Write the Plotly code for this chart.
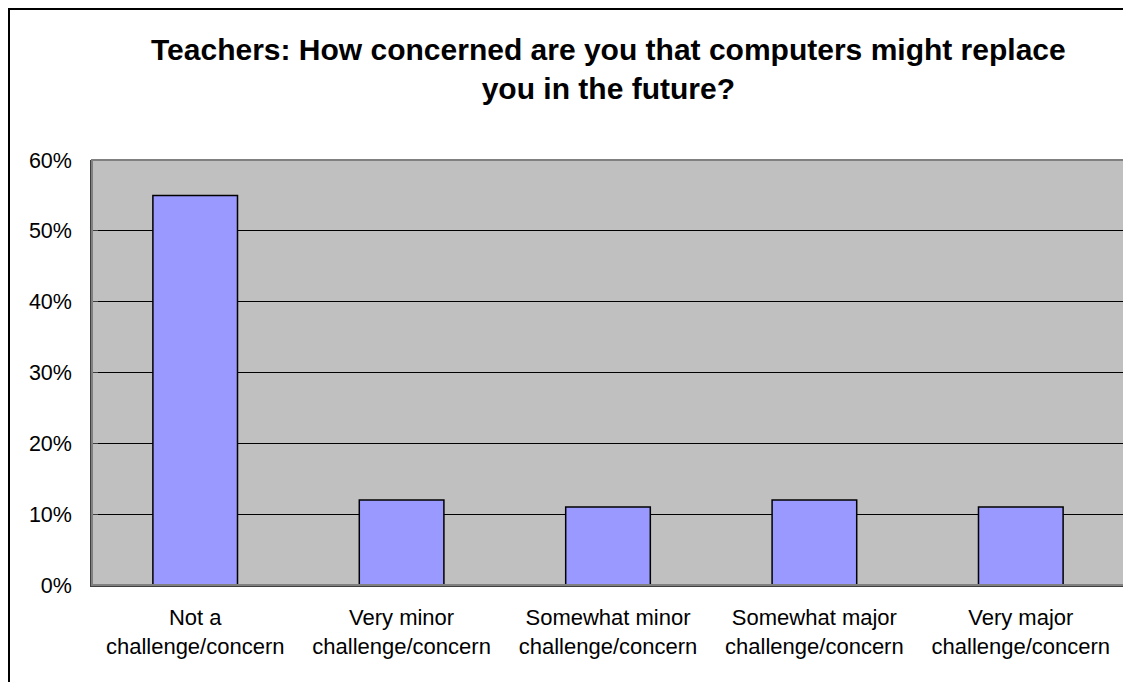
import plotly.graph_objects as go

categories = ["Not a<br>challenge/concern", "Very minor<br>challenge/concern",
              "Somewhat minor<br>challenge/concern", "Somewhat major<br>challenge/concern",
              "Very major<br>challenge/concern"]
values = [0.55, 0.12, 0.11, 0.12, 0.11]
y_ticks = [0, 0.1, 0.2, 0.3, 0.4, 0.5, 0.6]
y_tick_labels = ["0%", "10%", "20%", "30%", "40%", "50%", "60%"]
title_text = "Teachers: How concerned are you that computers might replace<br>you in the future?"

FONT = "Arial, Liberation Sans, sans-serif"
# page body has an 8px margin, so figure coords = screen coords - 8
W, H = 1123, 674
L, R, T, B = 84, 7, 152, 97
pw, ph = W - L - R, H - T - B

def px(x):
    return (x - L) / pw

def py(y):
    return (H - B - y) / ph

fig = go.Figure(go.Bar(
    x=categories, y=values,
    marker=dict(color="#9999FF", line=dict(color="black", width=1.5)),
    width=0.41,
))

fig.update_layout(
    width=W, height=H,
    margin=dict(l=L, r=R, t=T, b=B, autoexpand=False),
    paper_bgcolor="white", plot_bgcolor="#C0C0C0",
    showlegend=False,
    font=dict(family=FONT, color="black", size=22),
    shapes=[
        dict(type="rect", xref="paper", yref="paper",
             x0=0, x1=1, y0=0, y1=1, line=dict(color="#808080", width=2), layer="above"),
        dict(type="rect", xref="paper", yref="paper",
             x0=px(1), x1=px(W + 20), y0=py(1), y1=py(H + 20),
             line=dict(color="black", width=2)),
    ],
    annotations=[
        dict(text="<b>" + title_text + "</b>", xref="paper", yref="paper",
             x=0.5, y=py(61), xanchor="center", yanchor="middle",
             showarrow=False, font=dict(size=30, family=FONT, color="black")),
    ],
)

fig.update_yaxes(
    range=[0, 0.6], tickvals=y_ticks, ticktext=y_tick_labels,
    showgrid=True, gridcolor="black", gridwidth=1,
    ticks="inside", ticklen=6, tickcolor="#404040",
    showline=True, linecolor="#404040", linewidth=1.5,
    ticklabelstandoff=14, tickfont=dict(size=21.5), zeroline=False,
)
fig.update_xaxes(
    showgrid=False, ticks="", showline=True, linecolor="#404040", linewidth=1.5,
    ticklabelstandoff=12, tickfont=dict(size=22),
)

fig.write_html("out.html")
